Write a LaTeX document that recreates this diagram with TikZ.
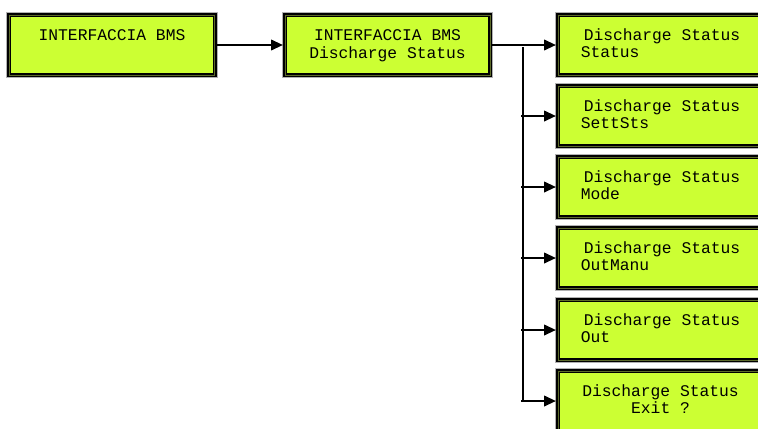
\documentclass[tikz,border=0pt]{standalone}
\usepackage{fontspec}
\newfontfamily\lcdfont{Liberation Mono}
\usetikzlibrary{arrows.meta}
\definecolor{lcd}{HTML}{CCFF33}
\definecolor{rim}{HTML}{5C6A2A}
\begin{document}
\begin{tikzpicture}[x=1bp,y=-1bp,
  lcdbox/.style={rectangle, fill=lcd, draw=black, line width=1.5bp,
    double=rim, double distance=1bp, minimum width=205bp, minimum height=60bp,
    inner sep=0pt, outer sep=2bp, preaction={draw=black!30, line width=6bp}},
  lcdtext/.style={font=\lcdfont\fontsize{16.3bp}{17bp}\selectfont, inner sep=0pt, anchor=base},
  widetext/.style={font=\lcdfont\fontsize{16.3bp}{18.5bp}\selectfont},
  menutext/.style={lcdtext, align=left},
  feed/.style={line width=2.3bp, -{Triangle[length=12bp,width=10.5bp]}},
  bus/.style={line width=1.3bp}]
\clip (0,0) rectangle (758,428);

% main screens
\node[lcdbox] (bms) at (112,45) {};
\node[lcdtext, align=center] (bmsT) at (112,40) {INTERFACCIA BMS};
\node[lcdbox] (dis) at (387.5,45) {};
% multi-line text sits on the baseline of its last line
\node[lcdtext, widetext, align=center] (disT) at (387.5,58.5) {INTERFACCIA BMS\\Discharge Status};

% submenu screens
\node[lcdbox] (s1) at (660.5,45) {};
\node[menutext] (s1T) at (660.5,57) {\hspace*{3bp}Discharge Status\\Status};
\node[lcdbox] (s2) at (660.5,116) {};
\node[menutext] (s2T) at (660.5,128) {\hspace*{3bp}Discharge Status\\SettSts};
\node[lcdbox] (s3) at (660.5,187) {};
\node[menutext] (s3T) at (660.5,199) {\hspace*{3bp}Discharge Status\\Mode};
\node[lcdbox] (s4) at (660.5,258) {};
\node[menutext] (s4T) at (660.5,270) {\hspace*{3bp}Discharge Status\\OutManu};
\node[lcdbox] (s5) at (660.5,330) {};
\node[menutext] (s5T) at (660.5,342) {\hspace*{3bp}Discharge Status\\Out};
\node[lcdbox] (s6) at (660.5,401) {};
\node[lcdtext, align=center] (s6T) at (660.5,413) {Discharge Status\\Exit ?};

% connectors
\coordinate (j0) at (523,45);
\coordinate (jend) at (523,401);
\draw[feed] (bms.east) -- (dis.west);
\draw[bus] (dis.east) -- (j0);
\draw[bus] ([yshift=-2bp]j0) -- (jend);
\draw[feed] (j0) -- (s1.west);
\foreach \s in {s2,s3,s4,s5,s6}
  \draw[feed] ([xshift=-2bp]\s.west -| j0) -- (\s.west);
\end{tikzpicture}
\end{document}
